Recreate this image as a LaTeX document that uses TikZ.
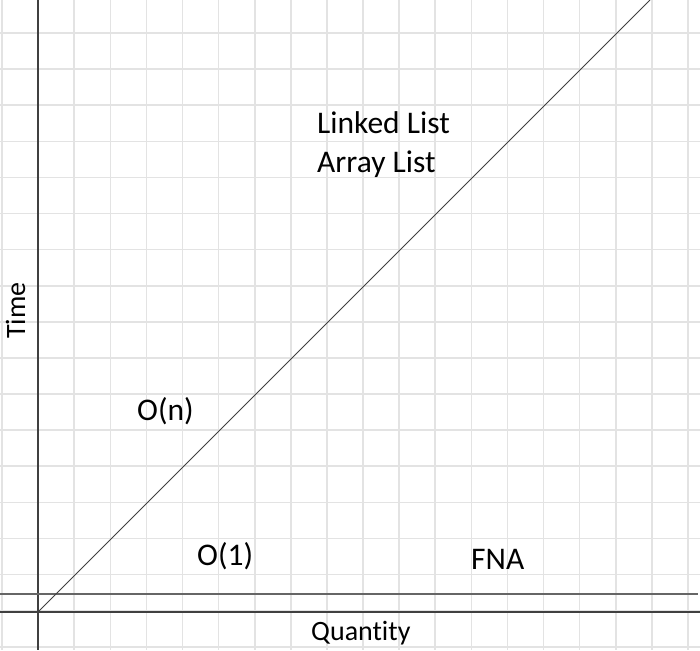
\documentclass[tikz,border=0pt]{standalone}
\usepackage{fontspec}
\setmainfont{Carlito}[Ligatures=NoCommon]
\begin{document}
\begin{tikzpicture}[x=1pt,y=-1pt,
  gridline/.style={draw=black!11,line width=1.6pt},
  axisline/.style={draw=black!75,line width=1.1pt},
  bigtext/.style={font=\fontsize{31.5}{36}\selectfont,inner sep=0pt,anchor=base west},
  smalltext/.style={font=\fontsize{28}{32}\selectfont,inner sep=0pt,anchor=base west}]
\useasboundingbox (0,0) rectangle (700,650);
\fill[white] (0,0) rectangle (700,650);
% grid
\foreach \k in {0,...,19} {
  \draw[gridline] ({2+36.1*\k},0) -- ({2+36.1*\k},650);
}
\foreach \k in {0,...,17} {
  \draw[gridline] (0,{33+36.1*\k}) -- (700,{33+36.1*\k});
}
% axes
\coordinate (origin) at (38,612);
\coordinate (ytop) at (38,0);
\coordinate (ybot) at (38,650);
\coordinate (xl) at (0,612);
\coordinate (xr) at (700,612);
\coordinate (hl) at (0,594);
\coordinate (hr) at (698,594);
\coordinate (diagend) at (650,0);
\draw[axisline] (ytop) -- (ybot);
\draw[axisline] (xl) -- (xr);
\draw[axisline,draw=black!60,line width=1.4pt] (hl) -- (hr);
\draw[axisline,line width=0.9pt] (origin) -- (diagend);
% labels
\node[bigtext] (ll) at (317,133) {Linked List};
\node[bigtext] (al) at (317,172) {Array List};
\node[bigtext] (on) at (137,420) {O(n)};
\node[bigtext] (o1) at (197,565) {O(1)};
\node[bigtext] (fna) at (471,569) {FNA};
\node[smalltext] (qty) at (311,640) {Quantity};
\node[smalltext,rotate=90] (time) at (25,339) {Time};
\end{tikzpicture}
\end{document}
